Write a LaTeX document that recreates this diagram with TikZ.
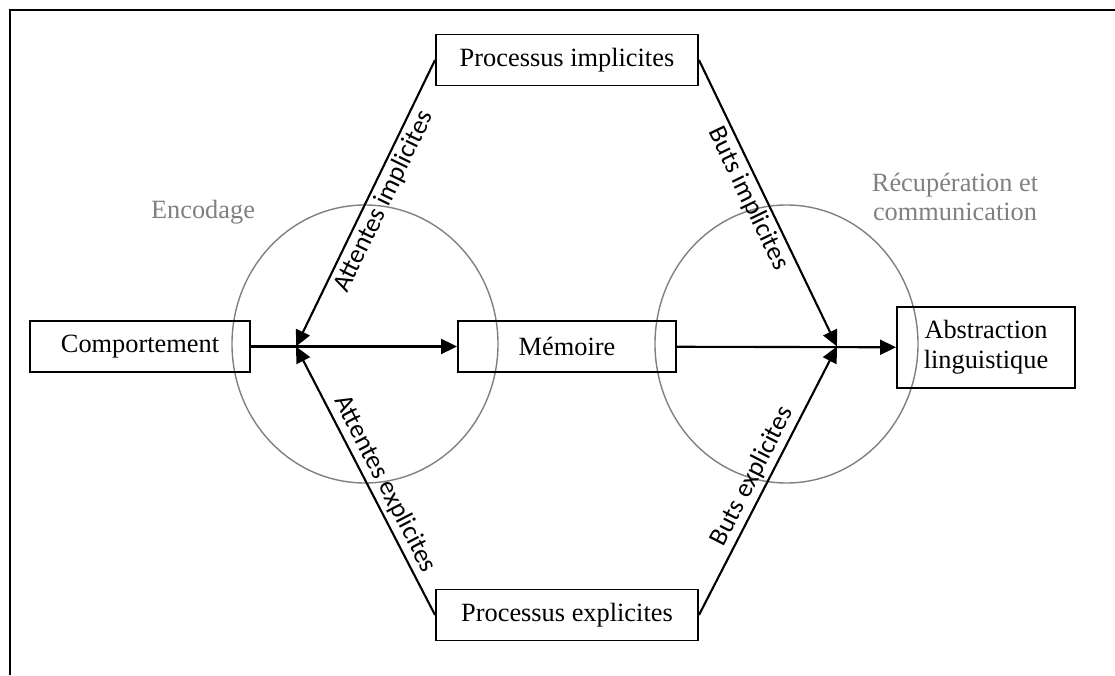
\documentclass[tikz,border=0pt]{standalone}
\usepackage{fontspec}
\setmainfont{Liberation Serif}
\newfontfamily\labelfont{Carlito}
\usetikzlibrary{arrows.meta}
\begin{document}
\begin{tikzpicture}[font=\fontsize{15}{17}\selectfont]
 \tikzset{directed/.style={-{Triangle[length=3.2mm,width=3mm]}}}
 \tikzset{box/.style={draw, line width=1.1pt, minimum height=1.02cm, inner sep=0pt}}
 \tikzset{edgelabel/.style={sloped, font=\labelfont\fontsize{15}{17}\selectfont, inner sep=2pt}}
 \tikzset{phase/.style={text=gray, align=center}}
  \useasboundingbox (0,0) rectangle (22.3,13.5);
  \draw[line width=1.3pt] (0.2,0) -- (0.2,13.3) -- (22.3,13.3);
  \draw[gray, line width=0.8pt] (7.3,6.62) ellipse (2.66 and 2.78);
  \draw[gray, line width=0.8pt] (15.73,6.62) ellipse (2.63 and 2.78);
  \node[phase] (Enc) at (4.06,9.26) {Encodage};
  \node[phase] (Rec) at (19.1,9.56) {Récupération et\\communication};
  \node[box, minimum width=5.24cm] (PI) at (11.34,12.3) {Processus implicites};
  \node[box, minimum width=5.24cm] (PE) at (11.34,1.2) {Processus explicites};
  \node[box, minimum width=4.4cm] (C) at (2.8,6.57) {Comportement};
  \node[box, minimum width=4.36cm] (M) at (11.34,6.57) {Mémoire};
  \node[box, minimum width=3.56cm, minimum height=1.62cm, align=center] (A) at (19.72,6.55) {Abstraction\\linguistique};
  \coordinate (J1) at (5.92,6.57);
  \coordinate (J2) at (16.74,6.57);
  \draw[line width=1.2pt, directed] (C) -- (M);
  \draw[line width=1.2pt, directed] (M) -- (A);
  \draw[line width=1.2pt, directed] (PI.west) -- node[edgelabel, pos=0.47, below] {Attentes implicites} (J1);
  \draw[line width=1.2pt, directed] (PE.west) -- node[edgelabel, pos=0.46, above] {Attentes explicites} (J1);
  \draw[line width=1.2pt, directed] (PI.east) -- node[edgelabel, pos=0.46, below] {Buts implicites} (J2);
  \draw[line width=1.2pt, directed] (PE.east) -- node[edgelabel, pos=0.49, above] {Buts explicites} (J2);
\end{tikzpicture}
\end{document}
